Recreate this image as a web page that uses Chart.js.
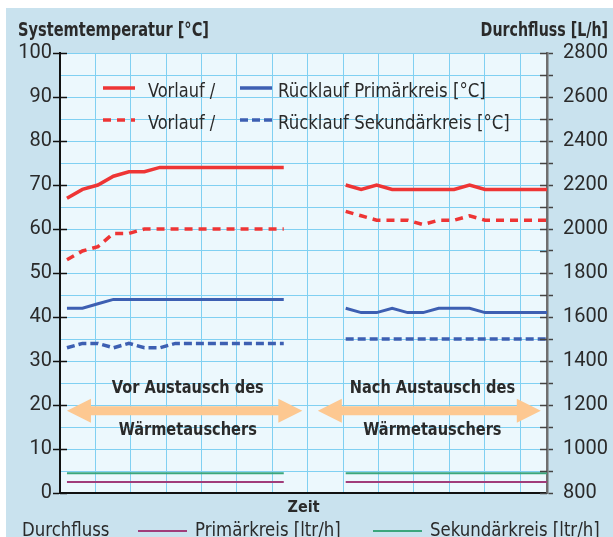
<!DOCTYPE html>
<html>
<head>
<meta charset="utf-8">
<script src="https://cdn.jsdelivr.net/npm/chart.js@4.4.0/dist/chart.umd.min.js"></script>
<style>
    html, body { margin: 0; padding: 0; background: #fff; }
    #wrap { width: 613px; height: 537px; position: relative; }
</style>
</head>
<body>
<div id="wrap"><canvas id="chart" width="613" height="537"></canvas></div>
<script>
// Sample index along the time axis (the original only says "Zeit")
const timeBefore = [0, 1, 2, 3, 4, 5, 6, 7, 8, 9, 10, 11, 12, 13, 14];
const timeAfter = [18, 19, 20, 21, 22, 23, 24, 25, 26, 27, 28, 29, 30, 31];

// Temperatures before the exchange [°C]
const vorlaufPrimBefore = [67, 69, 70, 72, 73, 73, 74, 74, 74, 74, 74, 74, 74, 74, 74];
const vorlaufSekBefore = [53, 55, 56, 59, 59, 60, 60, 60, 60, 60, 60, 60, 60, 60, 60];
const ruecklaufPrimBefore = [42, 42, 43, 44, 44, 44, 44, 44, 44, 44, 44, 44, 44, 44, 44];
const ruecklaufSekBefore = [33, 34, 34, 33, 34, 33, 33, 34, 34, 34, 34, 34, 34, 34, 34];

// Temperatures after the exchange [°C]
const vorlaufPrimAfter = [70, 69, 70, 69, 69, 69, 69, 69, 70, 69, 69, 69, 69, 69];
const vorlaufSekAfter = [64, 63, 62, 62, 62, 61, 62, 62, 63, 62, 62, 62, 62, 62];
const ruecklaufPrimAfter = [42, 41, 41, 42, 41, 41, 42, 42, 42, 41, 41, 41, 41, 41];
const ruecklaufSekAfter = [35, 35, 35, 35, 35, 35, 35, 35, 35, 35, 35, 35, 35, 35];

// Flow [L/h]
const flowPrimBefore = [850, 850, 850, 850, 850, 850, 850, 850, 850, 850, 850, 850, 850, 850, 850];
const flowSekBefore = [890, 890, 890, 890, 890, 890, 890, 890, 890, 890, 890, 890, 890, 890, 890];
const flowPrimAfter = [850, 850, 850, 850, 850, 850, 850, 850, 850, 850, 850, 850, 850, 850];
const flowSekAfter = [890, 890, 890, 890, 890, 890, 890, 890, 890, 890, 890, 890, 890, 890];

// Texts
const titleLeft = 'Systemtemperatur [°C]';
const titleRight = 'Durchfluss [L/h]';
const xTitle = 'Zeit';
const legendTop = [
    ['Vorlauf /', 'Rücklauf Primärkreis [°C]'],
    ['Vorlauf /', 'Rücklauf Sekundärkreis [°C]']
];
const legendBottom = ['Durchfluss', 'Primärkreis [ltr/h]', 'Sekundärkreis [ltr/h]'];
const phaseLabels = [
    ['Vor Austausch des', 'Wärmetauschers'],
    ['Nach Austausch des', 'Wärmetauschers']
];

// Colours
const COLORS = {
    red: '#ee3535',
    blue: '#3d5fb2',
    green: '#3aa67c',
    purple: '#a03c7a',
    arrow: '#fdc891',
    grid: '#80d0f2',
    plot: '#ecf8fd',
    outer: '#c9e2ee',
    text: '#2a2a2a'
};
const DASH_RED = [8, 6];
const DASH_BLUE = [8, 4];

const NARROW = '"DejaVu Sans Condensed", "Liberation Sans", sans-serif';
const NUM_FONT = 'Roboto, "Liberation Sans", sans-serif';

// x range and grid spacing in sample units
const xMin = -0.45;
const xMax = 31;
const xGridStep = 2.286;

function joinSeries(before, after) {
    const pts = before.map((v, i) => ({ x: timeBefore[i], y: v }));
    pts.push({ x: 16, y: null });
    return pts.concat(after.map((v, i) => ({ x: timeAfter[i], y: v })));
}

function lineSet(label, before, after, color, dash, axis, width) {
    return {
        label: label,
        data: joinSeries(before, after),
        borderColor: color,
        backgroundColor: color,
        borderWidth: width,
        borderDash: dash,
        pointRadius: 0,
        tension: 0,
        spanGaps: false,
        yAxisID: axis
    };
}

// squeezed text, the original uses a condensed face
function narrowText(ctx, text, x, y, sx, align) {
    ctx.save();
    ctx.translate(x, y);
    ctx.scale(sx, 1);
    ctx.textAlign = align;
    ctx.fillText(text, 0, 0);
    ctx.restore();
}

// Background and frame
const backgroundPlugin = {
    id: 'background',
    beforeDraw(chart) {
        const { ctx, chartArea: a } = chart;
        ctx.save();
        ctx.fillStyle = '#fff';
        ctx.fillRect(0, 0, chart.width, chart.height);
        ctx.fillStyle = COLORS.outer;
        ctx.fillRect(6, 8, chart.width - 6, chart.height - 8);
        ctx.fillStyle = COLORS.plot;
        ctx.fillRect(a.left, a.top, a.right - a.left, a.bottom - a.top);
        ctx.restore();
    }
};

function drawDoubleArrow(ctx, x1, x2, y) {
    const shaft = 9, headH = 24, headL = 24;
    ctx.beginPath();
    ctx.moveTo(x1, y);
    ctx.lineTo(x1 + headL, y - headH / 2);
    ctx.lineTo(x1 + headL, y - shaft / 2);
    ctx.lineTo(x2 - headL, y - shaft / 2);
    ctx.lineTo(x2 - headL, y - headH / 2);
    ctx.lineTo(x2, y);
    ctx.lineTo(x2 - headL, y + headH / 2);
    ctx.lineTo(x2 - headL, y + shaft / 2);
    ctx.lineTo(x1 + headL, y + shaft / 2);
    ctx.lineTo(x1 + headL, y + headH / 2);
    ctx.closePath();
    ctx.fill();
}

// Arrows, phase labels, inner tick halves, titles and legends
const decorPlugin = {
    id: 'decor',
    beforeDatasetsDraw(chart) {
        const { ctx, scales: { x, y } } = chart;
        ctx.save();
        ctx.fillStyle = COLORS.arrow;
        drawDoubleArrow(ctx, x.getPixelForValue(0), x.getPixelForValue(15.2), y.getPixelForValue(18.7));
        drawDoubleArrow(ctx, x.getPixelForValue(16.2), x.getPixelForValue(30.6), y.getPixelForValue(18.7));

        ctx.fillStyle = COLORS.text;
        ctx.font = 'bold 18px ' + NARROW;
        ctx.textBaseline = 'middle';
        const centers = [7.8, 23.6];
        phaseLabels.forEach((lines, i) => {
            narrowText(ctx, lines[0], x.getPixelForValue(centers[i]), y.getPixelForValue(23.9), 0.9, 'center');
            narrowText(ctx, lines[1], x.getPixelForValue(centers[i]), y.getPixelForValue(14.3), 0.9, 'center');
        });
        ctx.restore();
    },
    afterDraw(chart) {
        const { ctx, chartArea: a, scales: { y, y2 } } = chart;
        ctx.save();

        // tick marks crossing into the plot
        ctx.lineWidth = 1.5;
        ctx.strokeStyle = '#111';
        y.ticks.forEach(t => {
            if (t.value % 10 === 0) {
                const py = Math.round(y.getPixelForValue(t.value)) + 0.5;
                ctx.beginPath();
                ctx.moveTo(a.left, py);
                ctx.lineTo(a.left + 7, py);
                ctx.stroke();
            }
        });
        ctx.strokeStyle = '#444';
        y2.ticks.forEach(t => {
            const py = Math.round(y2.getPixelForValue(t.value)) + 0.5;
            ctx.beginPath();
            ctx.moveTo(a.right - 7, py);
            ctx.lineTo(a.right, py);
            ctx.stroke();
        });

        // axis titles on top
        ctx.fillStyle = COLORS.text;
        ctx.font = 'bold 20px ' + NARROW;
        ctx.textBaseline = 'alphabetic';
        narrowText(ctx, titleLeft, 18, 36, 0.81, 'left');
        narrowText(ctx, titleRight, 608, 36, 0.79, 'right');

        // legend inside the plot
        ctx.font = '20px ' + NARROW;
        const rowY = [88, 120];
        const rowBase = [97, 129];
        const dashes = [[[], []], [DASH_RED, DASH_BLUE]];
        legendTop.forEach((row, r) => {
            const ly = rowY[r];
            ctx.lineWidth = 3.5;
            ctx.setLineDash(dashes[r][0]);
            ctx.strokeStyle = COLORS.red;
            ctx.beginPath(); ctx.moveTo(103, ly); ctx.lineTo(135, ly); ctx.stroke();
            ctx.setLineDash(dashes[r][1]);
            ctx.strokeStyle = COLORS.blue;
            ctx.beginPath(); ctx.moveTo(240, ly); ctx.lineTo(272, ly); ctx.stroke();
            ctx.setLineDash([]);
            narrowText(ctx, row[0], 148, rowBase[r], 0.9, 'left');
            narrowText(ctx, row[1], 278, rowBase[r], 0.92, 'left');
        });

        // flow legend below the axis
        narrowText(ctx, legendBottom[0], 22, 536, 0.92, 'left');
        ctx.lineWidth = 2;
        ctx.strokeStyle = COLORS.purple;
        ctx.beginPath(); ctx.moveTo(138, 531); ctx.lineTo(187, 531); ctx.stroke();
        narrowText(ctx, legendBottom[1], 195, 536, 0.92, 'left');
        ctx.strokeStyle = COLORS.green;
        ctx.beginPath(); ctx.moveTo(373, 531); ctx.lineTo(422, 531); ctx.stroke();
        narrowText(ctx, legendBottom[2], 430, 536, 0.92, 'left');

        ctx.restore();
    }
};

const chart = new Chart(document.getElementById('chart'), {
    type: 'line',
    data: {
        datasets: [
            lineSet('Durchfluss Primärkreis [ltr/h]', flowPrimBefore, flowPrimAfter, COLORS.purple, [], 'y2', 2),
            lineSet('Durchfluss Sekundärkreis [ltr/h]', flowSekBefore, flowSekAfter, COLORS.green, [], 'y2', 2),
            lineSet('Rücklauf Sekundärkreis [°C]', ruecklaufSekBefore, ruecklaufSekAfter, COLORS.blue, DASH_BLUE, 'y', 3.5),
            lineSet('Rücklauf Primärkreis [°C]', ruecklaufPrimBefore, ruecklaufPrimAfter, COLORS.blue, [], 'y', 3),
            lineSet('Vorlauf Sekundärkreis [°C]', vorlaufSekBefore, vorlaufSekAfter, COLORS.red, DASH_RED, 'y', 3.5),
            lineSet('Vorlauf Primärkreis [°C]', vorlaufPrimBefore, vorlaufPrimAfter, COLORS.red, [], 'y', 3.5)
        ]
    },
    options: {
        responsive: false,
        animation: false,
        layout: { padding: { top: 53, left: 0, right: 0, bottom: 0 } },
        plugins: {
            legend: { display: false },
            tooltip: { enabled: false },
            title: { display: false }
        },
        scales: {
            x: {
                type: 'linear',
                min: xMin,
                max: xMax,
                afterBuildTicks(scale) {
                    const ticks = [];
                    for (let v = xMin; v < xMax; v += xGridStep) ticks.push({ value: v });
                    scale.ticks = ticks;
                },
                afterFit(scale) { scale.height = 44; },
                ticks: { display: false, autoSkip: false },
                grid: {
                    color: ctx => ctx.index === 0 ? 'rgba(0,0,0,0)' : COLORS.grid,
                    lineWidth: 1,
                    drawTicks: false
                },
                border: { color: '#111', width: 2 },
                title: {
                    display: true,
                    text: xTitle,
                    color: COLORS.text,
                    font: { family: NARROW, size: 16, weight: 'bold' },
                    padding: { top: 0, bottom: 20 }
                }
            },
            y: {
                position: 'left',
                min: 0,
                max: 100,
                afterFit(scale) { scale.width = 60; },
                ticks: {
                    stepSize: 5,
                    maxTicksLimit: 100,
                    autoSkip: false,
                    padding: 1,
                    color: COLORS.text,
                    font: { family: NUM_FONT, size: 20 },
                    callback: v => v % 10 === 0 ? v : ''
                },
                grid: {
                    color: ctx => ctx.tick && ctx.tick.value === 0 ? 'rgba(0,0,0,0)' : COLORS.grid,
                    lineWidth: 1,
                    tickLength: 7,
                    tickColor: ctx => ctx.tick && ctx.tick.value % 10 === 0 ? '#111' : 'rgba(0,0,0,0)',
                    tickWidth: 1.5
                },
                border: { color: '#111', width: 2 }
            },
            y2: {
                position: 'right',
                min: 800,
                max: 2800,
                afterFit(scale) { scale.width = 66; },
                ticks: {
                    stepSize: 100,
                    maxTicksLimit: 100,
                    autoSkip: false,
                    padding: 10,
                    color: COLORS.text,
                    font: { family: NUM_FONT, size: 20 },
                    callback: v => v % 200 === 0 ? v : ''
                },
                grid: {
                    drawOnChartArea: false,
                    tickLength: 6,
                    tickColor: '#444',
                    tickWidth: 1.5
                },
                border: { color: '#6f6f6f', width: 2.5 }
            }
        }
    },
    plugins: [backgroundPlugin, decorPlugin]
});
</script>
</body>
</html>
